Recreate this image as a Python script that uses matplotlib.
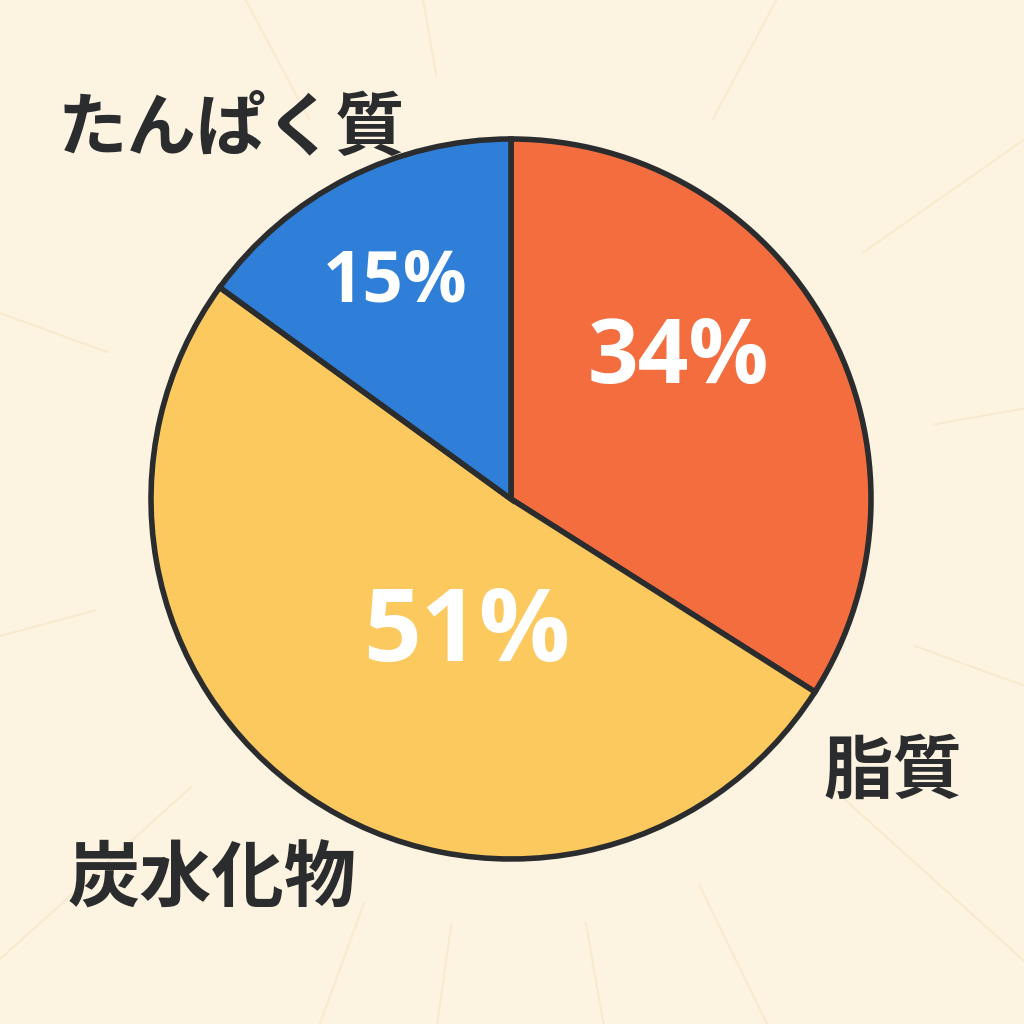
import numpy as np
import matplotlib.pyplot as plt

plt.rcParams['font.family'] = ['Noto Sans CJK JP', 'DejaVu Sans']

# data
names = ['脂質', '炭水化物', 'たんぱく質']
shares = [34, 51, 15]
colors = ['#F46D3F', '#FCC95F', '#2F7FD8']
ray_angles = [10, 35, 62, 100, 118, 160, 195, 222, 250, 262, 280, 296, 318, 340]

bg = '#FDF3E1'
ink = '#2A2C2E'

fig = plt.figure(figsize=(10.24, 10.24), dpi=100, facecolor=bg)
ax = fig.add_axes([0, 0, 1, 1])
ax.set_facecolor(bg)
ax.axis('off')

cx, cy, r = 511, 525, 360

# faint background rays
for a in ray_angles:
    t = np.radians(a)
    ax.plot([cx + 430 * np.cos(t), cx + 800 * np.cos(t)],
            [cy + 430 * np.sin(t), cy + 800 * np.sin(t)],
            color='#F5E2BC', lw=1.5, alpha=0.5, zorder=0)

wedges, _, pct = ax.pie(shares, colors=colors, startangle=90, counterclock=False,
                        center=(cx, cy), radius=r, autopct='%d%%',
                        wedgeprops=dict(edgecolor=ink, linewidth=4.0),
                        textprops=dict(color='white', fontweight='bold'))
ax.set_xlim(0, 1024)
ax.set_ylim(0, 1024)
ax.set_aspect('equal')

# percent labels placement/size
pct_pos = [(678, 1024 - 360), (467, 1024 - 635), (395, 1024 - 282)]
pct_size = [64, 73, 51]
for t, p, s in zip(pct, pct_pos, pct_size):
    t.set_position(p)
    t.set_fontsize(s)
    t.set_ha('center')
    t.set_va('center')
    t.set_family(['Open Sans', 'DejaVu Sans'])

# category labels
lab_pos = [(893, 1024 - 772), (212, 1024 - 880), (232, 1024 - 130)]
lab_size = [50, 52, 50]
for n, p, s in zip(names, lab_pos, lab_size):
    ax.text(p[0], p[1], n, fontsize=s, fontweight='bold', color=ink,
            ha='center', va='center')

fig.savefig('out.png', dpi=100, facecolor=bg)
